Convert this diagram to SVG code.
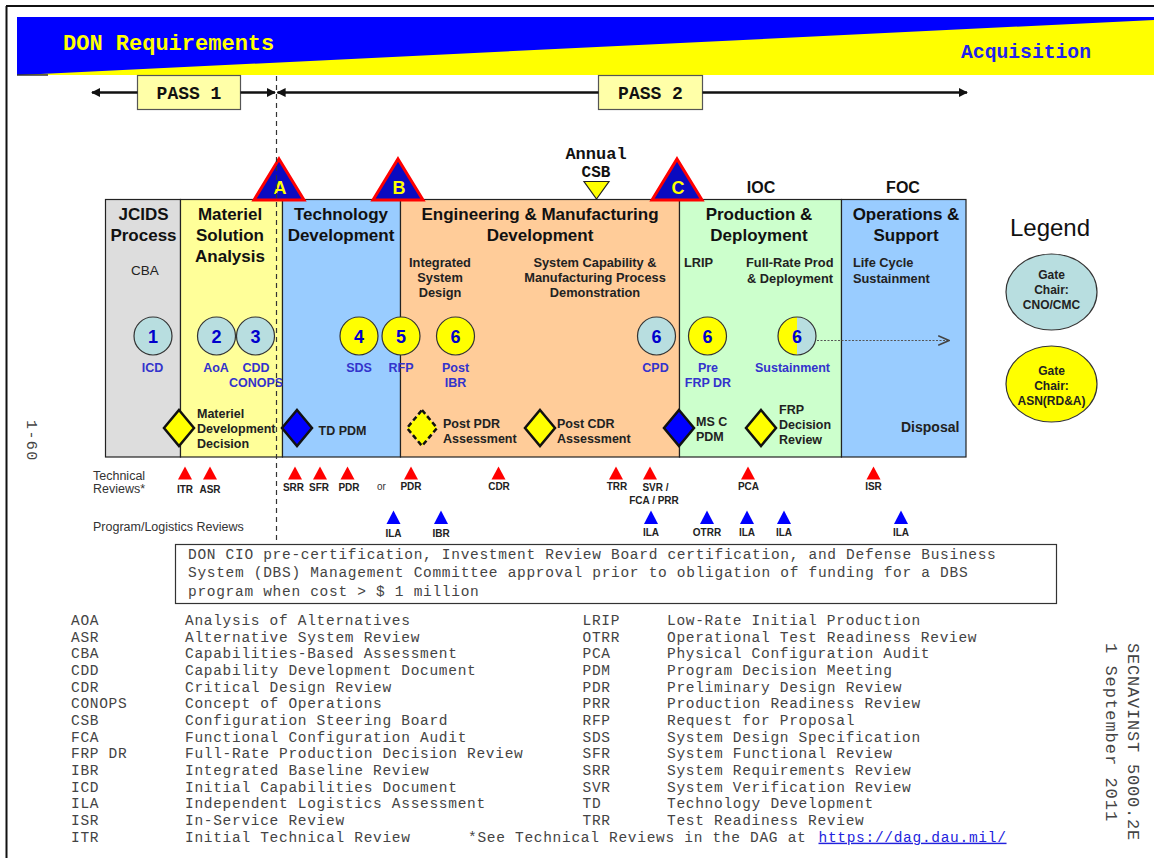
<svg xmlns="http://www.w3.org/2000/svg" width="1154" height="858" viewBox="0 0 1154 858">
  <defs>
    <style>
      .sans { font-family: "Liberation Sans", Arial, sans-serif; }
      .mono { font-family: "Liberation Mono", "Courier New", monospace; }
      .ph { font: bold 17px "Liberation Sans", Arial, sans-serif; fill: #111; text-anchor: middle; }
      .sub { font: bold 12.8px "Liberation Sans", Arial, sans-serif; fill: #222; }
      .num { font: bold 18px "Liberation Sans", Arial, sans-serif; fill: #0000CC; text-anchor: middle; }
      .cl { font: bold 12.5px "Liberation Sans", Arial, sans-serif; fill: #3333CC; text-anchor: middle; }
      .dl { font: bold 12.5px "Liberation Sans", Arial, sans-serif; fill: #222; }
      .rv { font: bold 10px "Liberation Sans", Arial, sans-serif; fill: #222; text-anchor: middle; }
      .lbl { font: 12.5px "Liberation Sans", Arial, sans-serif; fill: #333; }
      .gl { font: 14.5px "Liberation Mono", "Courier New", monospace; letter-spacing: 0.7px; fill: #444; }
      .box { stroke: #222; stroke-width: 1.2; }
      .teal { fill: #B8DEE0; stroke: #333; stroke-width: 1.2; }
      .yel { fill: #FFFF00; stroke: #333; stroke-width: 1.2; }
      .ms { fill: #0A0AC0; stroke: #FF0000; stroke-width: 3; }
      .msl { font: bold 18px "Liberation Sans", Arial, sans-serif; fill: #FFFF00; text-anchor: middle; }
      .dy { fill: #FFFF00; stroke: #111; stroke-width: 2.5; }
      .db { fill: #0000FF; stroke: #111; stroke-width: 2.5; }
      .tr { fill: #FF0000; }
      .tb { fill: #0000FF; }
      .pass { fill: #FFFFA8; stroke: #555; stroke-width: 1.2; }
      .passt { font: bold 18px "Liberation Mono", "Courier New", monospace; fill: #111; text-anchor: middle; }
    </style>
    <marker id="head" viewBox="0 0 10 10" refX="9" refY="5" markerWidth="9" markerHeight="9" markerUnits="userSpaceOnUse" orient="auto-start-reverse">
      <path d="M0,0 L10,5 L0,10 z" fill="#111"/>
    </marker>
    <marker id="open" viewBox="0 0 10 10" refX="9" refY="5" markerWidth="12" markerHeight="12" markerUnits="userSpaceOnUse" orient="auto">
      <path d="M0,1 L9,5 L0,9" fill="none" stroke="#444" stroke-width="1.3"/>
    </marker>
  </defs>

  <rect width="1154" height="858" fill="#FFFFFF"/>

  <!-- page frame -->
  <g id="frame" stroke="#111" stroke-width="2">
    <line x1="6" y1="6" x2="1154" y2="6"/>
    <line x1="6.5" y1="6" x2="6.5" y2="858"/>
  </g>

  <!-- requirements / acquisition banner -->
  <g id="banner">
    <rect x="17" y="17" width="1137" height="58" fill="#0000FF"/>
    <polygon points="20,75 1154,20 1154,75" fill="#FFFF00"/>
    <line x1="17" y1="75" x2="48" y2="75" stroke="#333" stroke-width="1.5"/>
    <text x="63" y="50" class="mono" font-size="22" font-weight="bold" fill="#FFFF00">DON Requirements</text>
    <text x="961" y="58" class="mono" font-size="19.7" font-weight="bold" fill="#2222EE">Acquisition</text>
  </g>

  <!-- phase strip -->
  <g id="phase-jcids">
    <rect x="105.5" y="199.5" width="75" height="257.5" fill="#DDDDDD" class="box"/>
    <text class="ph" x="143.5" y="220">JCIDS</text>
    <text class="ph" x="143.5" y="241">Process</text>
    <text x="145" y="275" class="sans" font-size="13.5" fill="#222" text-anchor="middle">CBA</text>
  </g>
  <g id="phase-msa">
    <rect x="180.5" y="199.5" width="102" height="257.5" fill="#FFFF99" class="box"/>
    <text class="ph" x="230" y="220">Materiel</text>
    <text class="ph" x="230" y="241">Solution</text>
    <text class="ph" x="230" y="262">Analysis</text>
  </g>
  <g id="phase-td">
    <rect x="282.5" y="199.5" width="118" height="257.5" fill="#99CCFF" class="box"/>
    <text class="ph" x="341" y="220">Technology</text>
    <text class="ph" x="341" y="241">Development</text>
  </g>
  <g id="phase-emd">
    <rect x="400.5" y="199.5" width="279" height="257.5" fill="#FFCC99" class="box"/>
    <text class="ph" x="540" y="220">Engineering &amp; Manufacturing</text>
    <text class="ph" x="540" y="241">Development</text>
    <text class="sub" x="440" y="267" text-anchor="middle">Integrated</text>
    <text class="sub" x="440" y="282" text-anchor="middle">System</text>
    <text class="sub" x="440" y="297" text-anchor="middle">Design</text>
    <text class="sub" x="595" y="267" text-anchor="middle">System Capability &amp;</text>
    <text class="sub" x="595" y="282" text-anchor="middle">Manufacturing Process</text>
    <text class="sub" x="595" y="297" text-anchor="middle">Demonstration</text>
  </g>
  <g id="phase-pd">
    <rect x="679.5" y="199.5" width="162" height="257.5" fill="#CCFFCC" class="box"/>
    <text class="ph" x="759" y="220">Production &amp;</text>
    <text class="ph" x="759" y="241">Deployment</text>
    <text class="sub" x="684" y="267">LRIP</text>
    <text class="sub" x="746" y="267">Full-Rate Prod</text>
    <text class="sub" x="747" y="283">&amp; Deployment</text>
  </g>
  <g id="phase-os">
    <rect x="841.5" y="199.5" width="124.5" height="257.5" fill="#99CCFF" class="box"/>
    <text class="ph" x="906" y="220">Operations &amp;</text>
    <text class="ph" x="906" y="241">Support</text>
    <text class="sub" x="853" y="267">Life Cycle</text>
    <text class="sub" x="853" y="283">Sustainment</text>
    <text x="901" y="432" class="sans" font-size="14" font-weight="bold" fill="#222">Disposal</text>
  </g>

  <!-- milestones -->
  <g id="milestone-a">
    <polygon class="ms" points="279,159 304,200 254,200"/>
    <text class="msl" x="280" y="194">A</text>
  </g>
  <g id="milestone-b">
    <polygon class="ms" points="398,159 423,200 373,200"/>
    <text class="msl" x="399" y="194">B</text>
  </g>
  <g id="milestone-c">
    <polygon class="ms" points="677,159 702,200 652,200"/>
    <text class="msl" x="678" y="194">C</text>
  </g>
  <g id="annual-csb">
    <text x="596" y="159" class="mono" font-size="17" font-weight="bold" fill="#111" text-anchor="middle">Annual</text>
    <text x="596" y="177" class="mono" font-size="16" font-weight="bold" fill="#111" text-anchor="middle">CSB</text>
    <polygon points="584,181.5 609,181.5 596.5,199" fill="#FFFF00" stroke="#222" stroke-width="1.2"/>
  </g>
  <g id="ioc-foc" class="sans" font-size="16" font-weight="bold" fill="#111" text-anchor="middle">
    <text x="761" y="193">IOC</text>
    <text x="903" y="193">FOC</text>
  </g>

  <!-- gate reviews -->
  <g id="gate-1">
    <circle class="teal" cx="153" cy="336" r="19"/>
    <text class="num" x="153" y="342.5">1</text>
    <text class="cl" x="152.5" y="372">ICD</text>
  </g>
  <g id="gate-2">
    <circle class="teal" cx="216.5" cy="336" r="19"/>
    <text class="num" x="216.5" y="342.5">2</text>
    <text class="cl" x="216" y="372">AoA</text>
  </g>
  <g id="gate-3">
    <circle class="teal" cx="255.5" cy="336" r="19"/>
    <text class="num" x="255.5" y="342.5">3</text>
    <text class="cl" x="256" y="372">CDD</text>
    <text class="cl" x="256" y="386.5">CONOPS</text>
  </g>
  <g id="gate-4">
    <circle class="yel" cx="359" cy="336" r="19"/>
    <text class="num" x="359" y="342.5">4</text>
    <text class="cl" x="359" y="372">SDS</text>
  </g>
  <g id="gate-5">
    <circle class="yel" cx="401" cy="336" r="19"/>
    <text class="num" x="401" y="342.5">5</text>
    <text class="cl" x="401" y="372">RFP</text>
  </g>
  <g id="gate-6-ibr">
    <circle class="yel" cx="455.5" cy="336" r="19"/>
    <text class="num" x="455.5" y="342.5">6</text>
    <text class="cl" x="455.5" y="372">Post</text>
    <text class="cl" x="455.5" y="386.5">IBR</text>
  </g>
  <g id="gate-6-cpd">
    <circle class="teal" cx="656.5" cy="336" r="19"/>
    <text class="num" x="656.5" y="342.5">6</text>
    <text class="cl" x="655.5" y="372">CPD</text>
  </g>
  <g id="gate-6-frp">
    <circle class="yel" cx="707.5" cy="336" r="19"/>
    <text class="num" x="707.5" y="342.5">6</text>
    <text class="cl" x="708" y="372">Pre</text>
    <text class="cl" x="708" y="386.5">FRP DR</text>
  </g>
  <g id="gate-6-sustainment">
    <path d="M797,317 A19,19 0 0 0 797,355 z" fill="#FFFF00"/>
    <path d="M797,317 A19,19 0 0 1 797,355 z" fill="#B8DEE0"/>
    <circle cx="797" cy="336" r="19" fill="none" stroke="#333" stroke-width="1.2"/>
    <text class="num" x="797" y="342.5">6</text>
    <text class="cl" x="792.5" y="372">Sustainment</text>
  </g>

  <!-- decision points -->
  <g id="decision-mdd">
    <polygon class="dy" points="179,410 194,428 179,446 164,428"/>
    <text class="dl" x="197" y="418">Materiel</text>
    <text class="dl" x="197" y="433">Development</text>
    <text class="dl" x="197" y="448">Decision</text>
  </g>
  <g id="decision-td-pdm">
    <polygon class="db" points="297,410 312,428 297,446 282,428"/>
    <text class="dl" x="318.5" y="435">TD PDM</text>
  </g>
  <g id="decision-post-pdr">
    <polygon class="dy" points="422,410 437,428 422,446 407,428" stroke-dasharray="5,3"/>
    <text class="dl" x="443" y="428">Post PDR</text>
    <text class="dl" x="443" y="443">Assessment</text>
  </g>
  <g id="decision-post-cdr">
    <polygon class="dy" points="540,410 555,428 540,446 525,428"/>
    <text class="dl" x="557" y="428">Post CDR</text>
    <text class="dl" x="557" y="443">Assessment</text>
  </g>
  <g id="decision-msc-pdm">
    <polygon class="db" points="679,410 694,428 679,446 664,428"/>
    <text class="dl" x="696" y="426">MS C</text>
    <text class="dl" x="696" y="441">PDM</text>
  </g>
  <g id="decision-frp">
    <polygon class="dy" points="761,410 776,428 761,446 746,428"/>
    <text class="dl" x="779" y="414">FRP</text>
    <text class="dl" x="779" y="429">Decision</text>
    <text class="dl" x="779" y="444">Review</text>
  </g>

  <!-- legend -->
  <g id="legend">
    <text x="1050" y="236" class="sans" font-size="24" fill="#111" text-anchor="middle">Legend</text>
  </g>
  <g id="legend-cno" class="sans" font-size="12" font-weight="bold" fill="#222" text-anchor="middle">
    <ellipse cx="1051.5" cy="292" rx="45.5" ry="38" fill="#B8DEE0" stroke="#333" stroke-width="1.2"/>
    <text x="1051.5" y="279">Gate</text>
    <text x="1051.5" y="294">Chair:</text>
    <text x="1051.5" y="309">CNO/CMC</text>
  </g>
  <g id="legend-asn" class="sans" font-size="12" font-weight="bold" fill="#222" text-anchor="middle">
    <ellipse cx="1051.5" cy="384" rx="45.5" ry="38" fill="#FFFF00" stroke="#333" stroke-width="1.2"/>
    <text x="1051.5" y="375">Gate</text>
    <text x="1051.5" y="390">Chair:</text>
    <text x="1051.5" y="405">ASN(RD&amp;A)</text>
  </g>

  <!-- technical reviews -->
  <g id="technical-reviews">
    <text class="lbl" x="93" y="480">Technical</text>
    <text class="lbl" x="93" y="493">Reviews*</text>
    <polygon class="tr" points="185,466.5 192,479.5 178,479.5"/>
    <polygon class="tr" points="210,466.5 217,479.5 203,479.5"/>
    <polygon class="tr" points="295,466.5 302,479.5 288,479.5"/>
    <polygon class="tr" points="320,466.5 327,479.5 313,479.5"/>
    <polygon class="tr" points="347.5,466.5 354.5,479.5 340.5,479.5"/>
    <polygon class="tr" points="411,466.5 418,479.5 404,479.5"/>
    <polygon class="tr" points="498.5,466.5 505.5,479.5 491.5,479.5"/>
    <polygon class="tr" points="616,466.5 623,479.5 609,479.5"/>
    <polygon class="tr" points="650,466.5 657,479.5 643,479.5"/>
    <polygon class="tr" points="748,466.5 755,479.5 741,479.5"/>
    <polygon class="tr" points="873.5,466.5 880.5,479.5 866.5,479.5"/>
    <text class="rv" x="185" y="492.5">ITR</text>
    <text class="rv" x="210" y="492.5">ASR</text>
    <text class="rv" x="293.5" y="491">SRR</text>
    <text class="rv" x="319" y="491">SFR</text>
    <text class="rv" x="349" y="491">PDR</text>
    <text x="381.5" y="489.5" class="sans" font-size="10" fill="#333" text-anchor="middle">or</text>
    <text class="rv" x="411" y="489.5">PDR</text>
    <text class="rv" x="499" y="489.5">CDR</text>
    <text class="rv" x="617" y="489.5">TRR</text>
    <text class="rv" x="655.5" y="491">SVR /</text>
    <text class="rv" x="654" y="503.5">FCA / PRR</text>
    <text class="rv" x="748.5" y="489.5">PCA</text>
    <text class="rv" x="873.5" y="489.5">ISR</text>
  </g>

  <!-- program / logistics reviews -->
  <g id="program-reviews">
    <text class="lbl" x="93" y="530.5">Program/Logistics Reviews</text>
    <polygon class="tb" points="393.5,510.5 400.5,524 386.5,524"/>
    <polygon class="tb" points="441,510.5 448,524 434,524"/>
    <polygon class="tb" points="651,510.5 658,524 644,524"/>
    <polygon class="tb" points="707,510.5 714,524 700,524"/>
    <polygon class="tb" points="747,510.5 754,524 740,524"/>
    <polygon class="tb" points="784,510.5 791,524 777,524"/>
    <polygon class="tb" points="901,510.5 908,524 894,524"/>
    <text class="rv" x="393.5" y="536.5">ILA</text>
    <text class="rv" x="441" y="536.5">IBR</text>
    <text class="rv" x="651" y="536">ILA</text>
    <text class="rv" x="707" y="536">OTRR</text>
    <text class="rv" x="747" y="536">ILA</text>
    <text class="rv" x="784" y="536">ILA</text>
    <text class="rv" x="901" y="536">ILA</text>
  </g>

  <!-- PASS markers -->
  <g id="pass-1">
    <rect class="pass" x="137.5" y="75.5" width="103" height="34"/>
    <text class="passt" x="189" y="98.5">PASS 1</text>
  </g>
  <g id="pass-2">
    <rect class="pass" x="598.5" y="75.5" width="104" height="34"/>
    <text class="passt" x="650.5" y="98.5">PASS 2</text>
  </g>

  <!-- connectors -->
  <g id="connectors">
    <line x1="92" y1="92.5" x2="137.5" y2="92.5" stroke="#111" stroke-width="2.5" marker-start="url(#head)"/>
    <line x1="240.5" y1="92.5" x2="275" y2="92.5" stroke="#111" stroke-width="2.5" marker-end="url(#head)"/>
    <line x1="277.5" y1="92.5" x2="598.5" y2="92.5" stroke="#111" stroke-width="2.5" marker-start="url(#head)"/>
    <line x1="702.5" y1="92.5" x2="967" y2="92.5" stroke="#111" stroke-width="2.5" marker-end="url(#head)"/>
    <line x1="276.5" y1="76" x2="276.5" y2="545" stroke="#333" stroke-width="1.2" stroke-dasharray="5,4"/>
    <line x1="817" y1="340.5" x2="949" y2="340.5" stroke="#555" stroke-width="1.2" stroke-dasharray="2,1.5" marker-end="url(#open)"/>
  </g>

  <!-- DBS funding note -->
  <g id="dbs-note">
    <rect x="175.5" y="544.5" width="881" height="59" fill="#FFFFFF" stroke="#333" stroke-width="1.2"/>
    <text class="gl" x="188" y="558.5">DON CIO pre-certification, Investment Review Board certification, and Defense Business</text>
    <text class="gl" x="188" y="577">System (DBS) Management Committee approval prior to obligation of funding for a DBS</text>
    <text class="gl" x="188" y="596">program when cost &gt; $ 1 million</text>
  </g>

  <!-- acronym list -->
  <g id="acronyms-left" class="gl">
    <text x="71" y="625">AOA</text><text x="185" y="625">Analysis of Alternatives</text>
    <text x="71" y="641.7">ASR</text><text x="185" y="641.7">Alternative System Review</text>
    <text x="71" y="658.3">CBA</text><text x="185" y="658.3">Capabilities-Based Assessment</text>
    <text x="71" y="675">CDD</text><text x="185" y="675">Capability Development Document</text>
    <text x="71" y="691.7">CDR</text><text x="185" y="691.7">Critical Design Review</text>
    <text x="71" y="708.3">CONOPS</text><text x="185" y="708.3">Concept of Operations</text>
    <text x="71" y="725">CSB</text><text x="185" y="725">Configuration Steering Board</text>
    <text x="71" y="741.7">FCA</text><text x="185" y="741.7">Functional Configuration Audit</text>
    <text x="71" y="758.3">FRP DR</text><text x="185" y="758.3">Full-Rate Production Decision Review</text>
    <text x="71" y="775">IBR</text><text x="185" y="775">Integrated Baseline Review</text>
    <text x="71" y="791.7">ICD</text><text x="185" y="791.7">Initial Capabilities Document</text>
    <text x="71" y="808.3">ILA</text><text x="185" y="808.3">Independent Logistics Assessment</text>
    <text x="71" y="825">ISR</text><text x="185" y="825">In-Service Review</text>
    <text x="71" y="841.7">ITR</text><text x="185" y="841.7">Initial Technical Review</text>
  </g>
  <g id="acronyms-right" class="gl">
    <text x="582.5" y="625">LRIP</text><text x="667" y="625">Low-Rate Initial Production</text>
    <text x="582.5" y="641.7">OTRR</text><text x="667" y="641.7">Operational Test Readiness Review</text>
    <text x="582.5" y="658.3">PCA</text><text x="667" y="658.3">Physical Configuration Audit</text>
    <text x="582.5" y="675">PDM</text><text x="667" y="675">Program Decision Meeting</text>
    <text x="582.5" y="691.7">PDR</text><text x="667" y="691.7">Preliminary Design Review</text>
    <text x="582.5" y="708.3">PRR</text><text x="667" y="708.3">Production Readiness Review</text>
    <text x="582.5" y="725">RFP</text><text x="667" y="725">Request for Proposal</text>
    <text x="582.5" y="741.7">SDS</text><text x="667" y="741.7">System Design Specification</text>
    <text x="582.5" y="758.3">SFR</text><text x="667" y="758.3">System Functional Review</text>
    <text x="582.5" y="775">SRR</text><text x="667" y="775">System Requirements Review</text>
    <text x="582.5" y="791.7">SVR</text><text x="667" y="791.7">System Verification Review</text>
    <text x="582.5" y="808.3">TD</text><text x="667" y="808.3">Technology Development</text>
    <text x="582.5" y="825">TRR</text><text x="667" y="825">Test Readiness Review</text>
  </g>
  <g id="footnote" class="gl">
    <text x="468" y="841.7">*See Technical Reviews in the DAG at</text>
    <text x="818.5" y="841.7" fill="#2222DD" text-decoration="underline">https://dag.dau.mil/</text>
  </g>

  <!-- page markings -->
  <g id="page-markings" class="mono" fill="#444">
    <text transform="translate(1128,643) rotate(90)" font-size="17" letter-spacing="0.8">SECNAVINST 5000.2E</text>
    <text transform="translate(1106,643) rotate(90)" font-size="17" letter-spacing="1">1 September 2011</text>
    <text transform="translate(27,420) rotate(90)" font-size="15" letter-spacing="1.4">1-60</text>
  </g>
</svg>
